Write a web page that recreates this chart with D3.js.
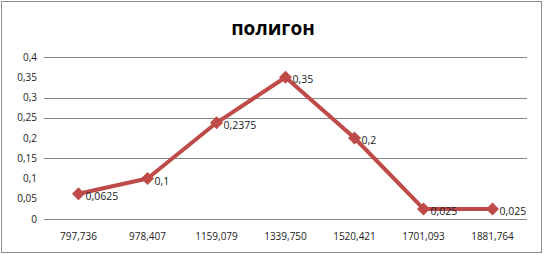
<!DOCTYPE html>
<html>
<head>
<meta charset="utf-8">
<script src="https://cdn.jsdelivr.net/npm/d3@7"></script>
<style>
  body { margin: 0; background: #fff; }
  .tick text { font-family: "Open Sans", "Liberation Sans", sans-serif; font-size: 10px; fill: #222; }
</style>
</head>
<body>
<svg class="chart"></svg>
<script>
var categories = ["797,736", "978,407", "1159,079", "1339,750", "1520,421", "1701,093", "1881,764"];
var values = [0.0625, 0.1, 0.2375, 0.35, 0.2, 0.025, 0.025];
var valueLabels = ["0,0625", "0,1", "0,2375", "0,35", "0,2", "0,025", "0,025"];
var yTicks = [0, 0.05, 0.1, 0.15, 0.2, 0.25, 0.3, 0.35, 0.4];
var yTickLabels = ["0", "0,05", "0,1", "0,15", "0,2", "0,25", "0,3", "0,35", "0,4"];
var gridTicks = [0, 0.15, 0.25, 0.3, 0.4];

var W = 544, H = 255;
var margin = {top: 57, right: 17, bottom: 36, left: 44},
    width = W - margin.left - margin.right,
    height = H - margin.top - margin.bottom;

var svg = d3.select(".chart").attr("width", W).attr("height", H);

svg.append("rect")
    .attr("x", 1.5).attr("y", 1.5)
    .attr("width", W - 4).attr("height", H - 4)
    .attr("fill", "#fff").attr("stroke", "#8c8c8c");

svg.append("text")
    .attr("x", W / 2 + 1).attr("y", 35)
    .attr("text-anchor", "middle")
    .style("font-family", "'Open Sans', 'Liberation Sans', sans-serif")
    .style("font-weight", "bold")
    .style("font-size", "19px")
    .text("полигон");

var g = svg.append("g").attr("transform", "translate(" + margin.left + "," + margin.top + ")");

var x = d3.scaleBand().domain(categories).range([0, width]);
var y = d3.scaleLinear().domain([0, 0.4]).range([height, 0]);

g.selectAll(".grid")
    .data(gridTicks)
  .enter().append("line")
    .attr("x1", 0).attr("x2", width)
    .attr("y1", function(d) { return Math.round(y(d)) + 0.5; })
    .attr("y2", function(d) { return Math.round(y(d)) + 0.5; })
    .attr("stroke", "#868686");

var yAxis = d3.axisLeft(y)
    .tickValues(yTicks)
    .tickSize(0).tickPadding(7)
    .tickFormat(function(d, i) { return yTickLabels[i]; });
g.append("g").call(yAxis).select(".domain").remove();

var xAxis = d3.axisBottom(x).tickSize(0).tickPadding(14);
g.append("g").attr("transform", "translate(0," + height + ")")
    .call(xAxis).select(".domain").remove();

var pts = categories.map(function(c, i) { return [x(c) + x.bandwidth() / 2, y(values[i])]; });

g.append("path")
    .datum(pts)
    .attr("d", d3.line())
    .attr("fill", "none")
    .attr("stroke", "#be4b48")
    .attr("stroke-width", 4)
    .attr("stroke-linejoin", "round");

g.selectAll(".marker")
    .data(pts)
  .enter().append("path")
    .attr("transform", function(d) { return "translate(" + d[0] + "," + d[1] + ")"; })
    .attr("d", "M0,-6.5L6.5,0L0,6.5L-6.5,0Z")
    .attr("fill", "#be4b48");

g.selectAll(".lbl")
    .data(pts)
  .enter().append("text")
    .attr("x", function(d) { return d[0] + 7; })
    .attr("y", function(d) { return d[1] + 6; })
    .style("font-family", "'Open Sans', 'Liberation Sans', sans-serif")
    .style("font-size", "10.5px")
    .attr("fill", "#222")
    .text(function(d, i) { return valueLabels[i]; });
</script>
</body>
</html>
